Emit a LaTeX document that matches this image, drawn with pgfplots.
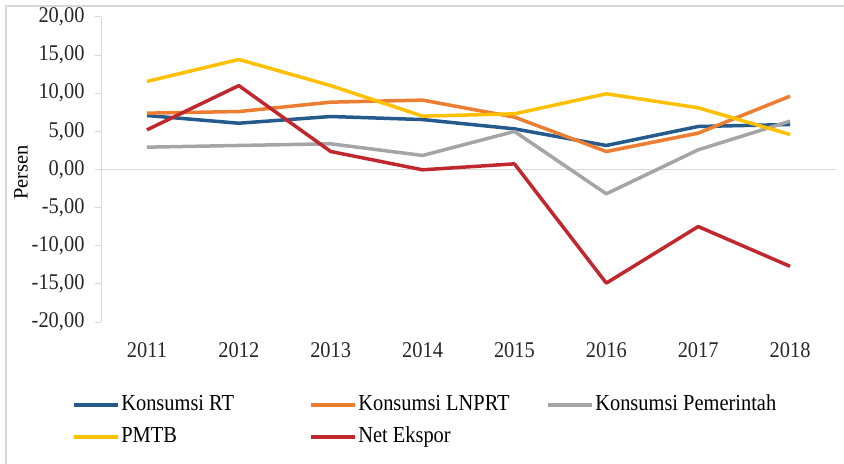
\documentclass[border=0pt]{standalone}
\usepackage{fontspec}
\setmainfont{Liberation Serif}
\usepackage{pgfplots}
\pgfplotsset{compat=1.18}
\definecolor{cRT}{HTML}{245B8C}
\definecolor{cLN}{HTML}{ED7D31}
\definecolor{cPem}{HTML}{A5A5A5}
\definecolor{cPM}{HTML}{FFC000}
\definecolor{cNE}{HTML}{C0282D}
\definecolor{frame}{HTML}{D9D9D9}
\newcommand{\legtxt}[1]{\makebox[186bp][l]{\scalebox{1}[1.12]{#1}}}
\begin{document}
\begin{tikzpicture}
\path[use as bounding box] (0,0) rectangle (844bp,464bp);
\draw[frame, line width=2bp] (6bp,0bp) -- (6bp,458bp) -- (844bp,458bp);
\begin{axis}[
  at={(101bp,142bp)}, anchor=south west,
  scale only axis, width=735bp, height=305bp,
  xmin=-0.5, xmax=7.5, ymin=-20, ymax=20,
  xtick={0,...,7},
  xticklabels={2011,2012,2013,2014,2015,2016,2017,2018},
  ytick={-20,-15,...,20},
  axis y line*=left, axis x line*=bottom,
  x axis line style={draw=none},
  y axis line style={draw=frame, line width=1bp},
  xtick style={draw=none},
  ytick style={draw=frame, line width=1bp},
  tick align=outside, major tick length=6bp,
  /pgf/number format/.cd, fixed, fixed zerofill, precision=2, use comma, assume math mode=true,
  /pgfplots/.cd,
  every tick label/.append style={font=\rmfamily\fontsize{20.5}{24}\selectfont, text=black!85, yscale=1.1},
  xticklabel style={yshift=-10bp},
  yticklabel style={xshift=-7bp},
  ylabel={Persen},
  ylabel style={at={(axis description cs:-0.1088,0.49)}, anchor=center, font=\rmfamily\fontsize{20.5}{24}\selectfont},
  legend columns=3,
  legend cell align=left,
  legend style={at={(axis description cs:-0.040,-0.238)}, anchor=north west, draw=none, fill=none,
    font=\rmfamily\fontsize{20.5}{24}\selectfont, row sep=11bp, inner sep=0pt,
    nodes={inner sep=1.5bp, text height=14bp, text depth=4bp}},
  legend image code/.code={\draw[#1, line width=4bp] (0bp,0bp) -- (44bp,0bp);},
  every axis plot/.append style={line width=3.5bp, line join=round},
]
\draw[frame, line width=1.5bp] (axis cs:-0.5,0) -- (axis cs:7.5,0);
\addplot[cRT] coordinates {(0,7.08) (1,6.07) (2,6.95) (3,6.55) (4,5.33) (5,3.15) (6,5.64) (7,5.90)};
\addlegendentry{\legtxt{Konsumsi RT}}
\addplot[cLN] coordinates {(0,7.39) (1,7.60) (2,8.83) (3,9.10) (4,6.87) (5,2.36) (6,4.77) (7,9.62)};
\addlegendentry{\legtxt{Konsumsi LNPRT}}
\addplot[cPem] coordinates {(0,2.93) (1,3.15) (2,3.37) (3,1.84) (4,4.99) (5,-3.19) (6,2.58) (7,6.34)};
\addlegendentry{\scalebox{1}[1.12]{Konsumsi Pemerintah}}
\addplot[cPM] coordinates {(0,11.55) (1,14.43) (2,11.00) (3,7.00) (4,7.30) (5,9.93) (6,8.09) (7,4.59)};
\addlegendentry{\legtxt{PMTB}}
\addplot[cNE] coordinates {(0,5.20) (1,11.00) (2,2.36) (3,-0.04) (4,0.74) (5,-14.90) (6,-7.48) (7,-12.70)};
\addlegendentry{\legtxt{Net Ekspor}}
\end{axis}
\end{tikzpicture}
\end{document}
